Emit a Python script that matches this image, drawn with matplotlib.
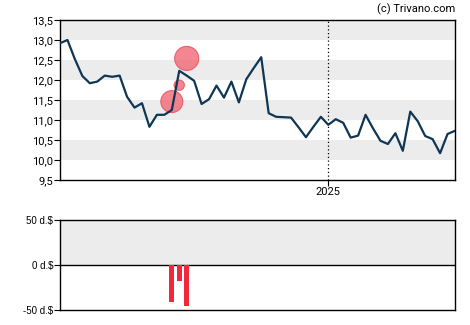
import numpy as np
import pandas as pd
import matplotlib
matplotlib.use("Agg")
import matplotlib.pyplot as plt
import matplotlib.dates as mdates

# weekly closing prices
start = pd.Timestamp("2024-04-24")
prices = [12.92, 13.00, 12.52, 12.10, 11.92, 11.96, 12.11, 12.08, 12.11, 11.58,
          11.31, 11.42, 10.83, 11.13, 11.13, 11.25, 12.23, 12.11, 11.98, 11.40,
          11.52, 11.86, 11.56, 11.96, 11.44, 12.02, 12.30, 12.57, 11.17, 11.08,
          11.07, 11.06, 10.82, 10.57, 10.83, 11.08, 10.88, 11.02, 10.93, 10.56,
          10.61, 11.13, 10.79, 10.48, 10.40, 10.67, 10.23, 11.21, 10.97, 10.60,
          10.52, 10.17, 10.65, 10.73]
dates = pd.date_range(start, periods=len(prices), freq="7D")

# insider trades (week index, price, volume)
trade_idx = [15, 16, 17]
trade_price = [11.46, 11.87, 12.54]
trade_vol = [-41, -18, -45]
bubble_size = [250, 55, 300]

y_ticks = [9.5, 10.0, 10.5, 11.0, 11.5, 12.0, 12.5, 13.0, 13.5]
vol_ticks = [-50, 0, 50]
vol_labels = ["-50 d.$", "0 d.$", "50 d.$"]

line_col = "#0f3654"
red = "#f0283c"
band = "#ececec"

fig = plt.figure(figsize=(4.7, 3.25), dpi=100)
ax = fig.add_axes([60/470, 1-180/325, 395/470, 160/325])
ax2 = fig.add_axes([60/470, 1-310/325, 395/470, 90/325])

x0, x1 = mdates.date2num(dates[0]), mdates.date2num(dates[-1])

for lo in [10.0, 11.0, 12.0, 13.0]:
    ax.axhspan(lo, lo + 0.5, color=band, lw=0, zorder=0)
ax.axvline(mdates.date2num(pd.Timestamp("2025-01-01")), color="black",
           ls=(0, (1, 2)), lw=0.9, zorder=1)
td = [dates[i] for i in trade_idx]
ax.scatter(td, trade_price, s=bubble_size, color="#f06874", alpha=0.8,
           edgecolors="#e84a5a", linewidths=0.8, zorder=2)
ax.plot(dates, prices, color=line_col, lw=1.6, zorder=3)

ax.set_xlim(x0, x1)
ax.set_ylim(9.5, 13.5)
ax.set_yticks(y_ticks)
ax.set_yticklabels([f"{v:.1f}".replace(".", ",") for v in y_ticks])
ax.set_xticks([mdates.date2num(pd.Timestamp("2025-01-01"))])
ax.set_xticklabels(["2025"])
ax.tick_params(labelsize=8, length=4, width=0.8, pad=1, colors="black")
for lab in ax.get_yticklabels() + ax.get_xticklabels():
    lab.set_fontfamily("Roboto")
for s in ax.spines.values():
    s.set_linewidth(1.0)

ax2.axhspan(0, 50, color=band, lw=0, zorder=0)
ax2.axhline(0, color="black", lw=1.0, zorder=2)
ax2.bar(td, trade_vol, width=4.4, color=red, zorder=3)
ax2.set_xlim(x0, x1)
ax2.set_ylim(-50, 50)
ax2.set_yticks(vol_ticks)
ax2.set_yticklabels(vol_labels)
ax2.set_xticks([])
ax2.tick_params(labelsize=7, length=4, width=0.8, pad=1)
for lab in ax2.get_yticklabels():
    lab.set_fontfamily("Liberation Sans")
for s in ax2.spines.values():
    s.set_linewidth(1.0)

fig.text(455/470, 1-9/325, "(c) Trivano.com", ha="right", va="center",
         fontsize=8, family="Roboto")

fig.savefig("out.png", dpi=100)
